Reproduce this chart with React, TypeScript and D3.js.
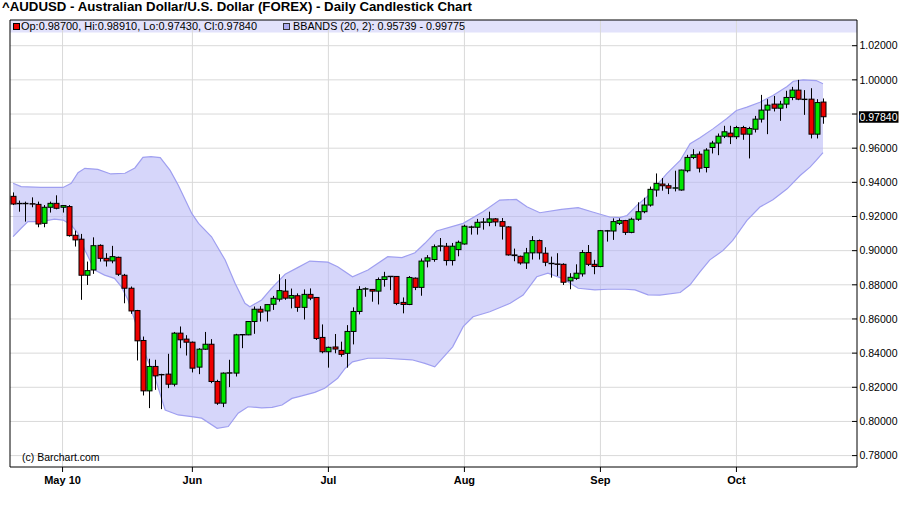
import React from "react";
import * as d3 from "d3";

// daily candles, index 0 = Apr 21 2010 ... 131 = Oct 21 2010
const opens = [
  0.9318, 0.9277, 0.9277, 0.9275, 0.9271, 0.916, 0.9254, 0.9277, 0.9254, 0.9258,
  0.909, 0.9067, 0.8856, 0.8887, 0.9031, 0.8955, 0.894, 0.8961, 0.8856, 0.878,
  0.8649, 0.8474, 0.8179, 0.8322, 0.8275, 0.8277, 0.8218, 0.8517, 0.8482, 0.8464,
  0.8318, 0.8423, 0.8452, 0.8234, 0.8107, 0.8283, 0.8283, 0.8507, 0.8507, 0.8585,
  0.8657, 0.8647, 0.8686, 0.8716, 0.8763, 0.8722, 0.8736, 0.8668, 0.8744, 0.8726,
  0.8492, 0.8408, 0.8436, 0.8416, 0.8399, 0.8527, 0.8644, 0.8775, 0.8773, 0.8763,
  0.8831, 0.8849, 0.8849, 0.8697, 0.8685, 0.8839, 0.8785, 0.8939, 0.8948, 0.9026,
  0.9026, 0.8942, 0.9006, 0.9039, 0.9137, 0.9137, 0.9166, 0.9166, 0.9186, 0.917,
  0.9139, 0.8975, 0.8967, 0.8928, 0.8987, 0.9059, 0.8985, 0.8926, 0.8922, 0.892,
  0.8823, 0.8838, 0.8864, 0.8989, 0.892, 0.8907, 0.9115, 0.9115, 0.916, 0.9176,
  0.9107, 0.9184, 0.9228, 0.9267, 0.9355, 0.939, 0.938, 0.9366, 0.9355, 0.9468,
  0.9546, 0.9565, 0.9487, 0.9604, 0.963, 0.967, 0.9688, 0.9667, 0.9721, 0.9682,
  0.9711, 0.977, 0.9823, 0.9858, 0.9834, 0.9858, 0.9897, 0.994, 0.9887, 0.9887,
  0.9682, 0.987,
];
const highs = [
  0.9341, 0.9293, 0.9287, 0.9312, 0.9287, 0.9267, 0.9287, 0.9324, 0.9267, 0.9267,
  0.9117, 0.9098, 0.8936, 0.9078, 0.9037, 0.8985, 0.9028, 0.8965, 0.8864, 0.879,
  0.8653, 0.8497, 0.8367, 0.8361, 0.8279, 0.8396, 0.8524, 0.8556, 0.8505, 0.8468,
  0.8429, 0.8524, 0.8482, 0.8244, 0.8287, 0.8361, 0.8513, 0.8509, 0.8587, 0.8673,
  0.8675, 0.8684, 0.8735, 0.8862, 0.8833, 0.8778, 0.875, 0.8773, 0.8779, 0.8728,
  0.8568, 0.8438, 0.8512, 0.8467, 0.8564, 0.8668, 0.8792, 0.8785, 0.8775, 0.8843,
  0.8876, 0.8851, 0.8851, 0.8726, 0.8851, 0.8843, 0.8954, 0.8974, 0.9036, 0.9074,
  0.9045, 0.9045, 0.9059, 0.9152, 0.9146, 0.9186, 0.9191, 0.9228, 0.9191, 0.9191,
  0.9143, 0.9012, 0.8971, 0.9016, 0.9085, 0.9065, 0.902, 0.8965, 0.8985, 0.8926,
  0.8868, 0.892, 0.9004, 0.9033, 0.8946, 0.9121, 0.9121, 0.9189, 0.9189, 0.918,
  0.9193, 0.9283, 0.931, 0.9375, 0.9452, 0.9425, 0.9394, 0.9468, 0.9474, 0.9561,
  0.9594, 0.9581, 0.96, 0.9643, 0.9686, 0.9731, 0.9731, 0.9731, 0.9731, 0.9725,
  0.9789, 0.9912, 0.9887, 0.9906, 0.9877, 0.9936, 0.9959, 1.0, 0.994, 0.9951,
  0.9887, 0.9891,
];
const lows = [
  0.9267, 0.9228, 0.917, 0.9254, 0.9137, 0.9137, 0.9223, 0.9242, 0.9223, 0.9082,
  0.9024, 0.8712, 0.8799, 0.8864, 0.8936, 0.8907, 0.8926, 0.8852, 0.8692, 0.863,
  0.8357, 0.8152, 0.8078, 0.8185, 0.8072, 0.8195, 0.8205, 0.8429, 0.8386, 0.8287,
  0.8277, 0.8419, 0.8224, 0.8097, 0.8084, 0.8201, 0.8263, 0.8429, 0.8505, 0.8513,
  0.8585, 0.8585, 0.8653, 0.8702, 0.8712, 0.8662, 0.8642, 0.8597, 0.871, 0.8477,
  0.8399, 0.8315, 0.8399, 0.8379, 0.8315, 0.8451, 0.8627, 0.873, 0.8701, 0.8685,
  0.8789, 0.8769, 0.8681, 0.8633, 0.8681, 0.8769, 0.8736, 0.8902, 0.8935, 0.8996,
  0.8913, 0.8913, 0.8967, 0.9035, 0.9094, 0.9094, 0.9123, 0.9143, 0.9143, 0.9065,
  0.8971, 0.8938, 0.8918, 0.8893, 0.8948, 0.8948, 0.8909, 0.8842, 0.8852, 0.8799,
  0.8774, 0.8829, 0.8848, 0.891, 0.8862, 0.8903, 0.9053, 0.9063, 0.915, 0.9092,
  0.9102, 0.9174, 0.9219, 0.9258, 0.9316, 0.9351, 0.9331, 0.9347, 0.9351, 0.9458,
  0.9536, 0.9458, 0.9458, 0.9569, 0.9559, 0.9659, 0.9624, 0.9653, 0.9649, 0.954,
  0.9692, 0.975, 0.9682, 0.9815, 0.976, 0.9834, 0.9881, 0.9881, 0.9795, 0.9657,
  0.9657, 0.9743,
];
const closes = [
  0.9273, 0.9276, 0.9275, 0.9273, 0.9156, 0.9254, 0.9277, 0.9248, 0.9264, 0.9088,
  0.9063, 0.8856, 0.8883, 0.9029, 0.8955, 0.894, 0.8965, 0.8862, 0.878, 0.8647,
  0.8472, 0.8179, 0.8322, 0.8267, 0.8273, 0.8218, 0.8517, 0.8478, 0.8464, 0.8312,
  0.8423, 0.8452, 0.8234, 0.8107, 0.8283, 0.8285, 0.8507, 0.8509, 0.8585, 0.8657,
  0.864, 0.8684, 0.8721, 0.8766, 0.8722, 0.8737, 0.8668, 0.8744, 0.8722, 0.8486,
  0.8408, 0.8434, 0.8424, 0.8393, 0.8527, 0.8644, 0.8773, 0.8777, 0.8763, 0.8831,
  0.8847, 0.885, 0.8691, 0.8685, 0.8843, 0.8785, 0.8939, 0.8958, 0.9023, 0.9028,
  0.8942, 0.9026, 0.9049, 0.9143, 0.9139, 0.9166, 0.9168, 0.9186, 0.9168, 0.9143,
  0.8975, 0.8971, 0.8928, 0.8987, 0.9059, 0.8987, 0.8932, 0.8924, 0.892, 0.8815,
  0.8844, 0.8868, 0.8989, 0.892, 0.8907, 0.9117, 0.9117, 0.917, 0.9176, 0.9107,
  0.9184, 0.9228, 0.9267, 0.9359, 0.9394, 0.938, 0.9366, 0.9368, 0.9472, 0.9546,
  0.9561, 0.9483, 0.9589, 0.963, 0.967, 0.9696, 0.9667, 0.9721, 0.9682, 0.9715,
  0.977, 0.9823, 0.9852, 0.9834, 0.9858, 0.9897, 0.994, 0.9887, 0.9885, 0.9682,
  0.9867, 0.9784,
];

// Bollinger band readings: [candle index, value]
const bbUpper: [number, number][] = [
  [0, 0.9395], [1.3, 0.9375], [4.5, 0.937], [8.1, 0.937], [9.4, 0.9394], [10.5, 0.9456],
  [11.6, 0.9482], [13.7, 0.9476], [15.8, 0.9449], [18.1, 0.9453], [19.7, 0.9484],
  [21, 0.9546], [22.3, 0.955], [23.8, 0.9545], [25.4, 0.947], [26.7, 0.9384],
  [28.9, 0.9218], [30, 0.916], [32.1, 0.9081], [34.3, 0.8945], [35.9, 0.8809],
  [37.5, 0.8692], [38.3, 0.8672], [40.2, 0.8711], [41.8, 0.8779], [44, 0.8862],
  [46.1, 0.8902], [48, 0.8939], [50.9, 0.8933], [52.5, 0.8906], [54.9, 0.8847],
  [57.4, 0.8887], [60.6, 0.8965], [62.9, 0.8959], [65, 0.8988], [66.6, 0.9043],
  [68.5, 0.9115], [72.8, 0.916], [76, 0.9228], [78.7, 0.9296], [81.4, 0.93],
  [83.1, 0.9257], [85.2, 0.9222], [88.7, 0.9242], [91.4, 0.9252], [93.6, 0.9228],
  [96.5, 0.9197], [98.1, 0.9193], [99.3, 0.9206], [100.9, 0.9265], [102.5, 0.9314],
  [104.1, 0.9382], [105.7, 0.945], [107.9, 0.9528], [109.5, 0.9626], [111.1, 0.9661],
  [113.2, 0.9713], [115.4, 0.9772], [117, 0.9821], [118.7, 0.984], [120.8, 0.9869],
  [122.9, 0.9908], [125.2, 0.9961], [126.2, 0.9992], [127.8, 1.0], [129.9, 0.9996],
  [131, 0.9977],
];
const bbLower: [number, number][] = [
  [0, 0.9082], [1.3, 0.9131], [2.4, 0.917], [4.5, 0.917], [6.7, 0.9185], [8.1, 0.9179],
  [9.4, 0.915], [10.5, 0.9101], [11.6, 0.9004], [13.2, 0.8887], [14.8, 0.8857],
  [16.4, 0.8838], [17.5, 0.8789], [18.6, 0.8711], [20.2, 0.8535], [21.3, 0.84],
  [22.9, 0.8262], [24.6, 0.8067], [26.7, 0.8038], [28.9, 0.8028], [30.5, 0.8019],
  [33, 0.796], [34.8, 0.797], [36.4, 0.8048], [38, 0.8086], [40.2, 0.808], [41.9, 0.8082],
  [43.5, 0.8096], [45.1, 0.8135], [46.4, 0.8147], [48.8, 0.817], [50.4, 0.8194],
  [52.5, 0.8253], [53.7, 0.831], [54.9, 0.8349], [57.4, 0.837], [60.1, 0.837],
  [64.5, 0.8361], [66.6, 0.834], [68.2, 0.832], [71.1, 0.8437], [72.8, 0.8555],
  [74.4, 0.8613], [77.1, 0.8642], [80.4, 0.8692], [82.5, 0.874], [84.7, 0.8847],
  [86.5, 0.8868], [88.8, 0.8838], [91.4, 0.878], [94.1, 0.877], [96.2, 0.8774],
  [99, 0.8774], [100.6, 0.877], [102.7, 0.8741], [104.6, 0.874], [107.9, 0.8755],
  [109.5, 0.88], [111.1, 0.8876], [112.7, 0.8946], [114.8, 0.9], [116.4, 0.906],
  [118.7, 0.9177], [120.8, 0.9255], [122.9, 0.9298], [125.2, 0.9362], [127.3, 0.944],
  [128.9, 0.9489], [129.9, 0.9528], [131, 0.9574],
];

const monthTickIdx = [8, 29, 51, 73, 95, 117];
const monthTickLabels = ["May 10", "Jun", "Jul", "Aug", "Sep", "Oct"];
const priceTicks = [0.78, 0.8, 0.82, 0.84, 0.86, 0.88, 0.9, 0.92, 0.94, 0.96, 0.98, 1.0, 1.02];
const lastPrice = 0.9784;

const W = 900;
const H = 511;
const left = 10;
const right = 857;
const top = 20;
const bottom = 467;

const RED = "#ee0000";
const GREEN = "#00e600";
const GRID = "#d9d9d9";
const AXIS_FONT = "'Liberation Sans', Arial, sans-serif";
const NARROW_FONT = "'Liberation Sans Narrow', 'Arial Narrow', 'Liberation Sans', sans-serif";

const App: React.FC = () => {
  const x = d3.scaleLinear().domain([-0.5, 136.5]).range([left, right]);
  const y = d3.scaleLinear().domain([0.78, 1.02]).range([455.6, 45.7]);
  const half = 2.5;

  const line = d3
    .line<[number, number]>()
    .x((d) => x(d[0]))
    .y((d) => y(d[1]));
  const upperPath = line(bbUpper) || "";
  const lowerPath = line(bbLower) || "";
  const lowerRevPath = line([...bbLower].reverse()) || "";
  const bandPath = upperPath + "L" + lowerRevPath.slice(1) + "Z";

  // the last-price box hides the tick label it sits on
  const hidden = (p: number) => Math.abs(y(p) - y(lastPrice)) < 9;

  return (
    <svg
      width={W}
      height={H}
      style={{ position: "absolute", left: 0, top: 0, background: "#fff" }}
    >
      <text
        x={2}
        y={11}
        fontFamily={AXIS_FONT}
        fontWeight="bold"
        fontSize={13}
        textLength={470}
        lengthAdjust="spacingAndGlyphs"
        fill="#000"
      >
        ^AUDUSD - Australian Dollar/U.S. Dollar (FOREX) - Daily Candlestick Chart
      </text>

      {/* legend strip, grid drawn over it */}
      <rect x={left} y={top} width={right - left} height={12.5} fill="#e2e2fb" />

      {priceTicks.map((p) => (
        <line key={"h" + p} x1={left} x2={right} y1={y(p)} y2={y(p)} stroke={GRID} />
      ))}
      {monthTickIdx.map((i) => (
        <line key={"v" + i} x1={x(i)} x2={x(i)} y1={top} y2={bottom} stroke={GRID} />
      ))}

      <rect x={13.5} y={23.5} width={6} height={6} fill={RED} stroke="#000" />
      <text
        x={21}
        y={30}
        fontFamily={AXIS_FONT}
        fontSize={10.5}
        textLength={236}
        lengthAdjust="spacingAndGlyphs"
        fill="#000"
      >
        Op:0.98700, Hi:0.98910, Lo:0.97430, Cl:0.97840
      </text>
      <rect x={283.5} y={23.5} width={6} height={6} fill="#aaaaee" stroke="#333" />
      <text
        x={293}
        y={30}
        fontFamily={AXIS_FONT}
        fontSize={10.5}
        textLength={172}
        lengthAdjust="spacingAndGlyphs"
        fill="#000"
      >
        BBANDS (20, 2): 0.95739 - 0.99775
      </text>

      {/* bollinger band */}
      <path d={bandPath} fill="#b4b4f5" fillOpacity={0.55} stroke="none" />
      <path d={upperPath} fill="none" stroke="#9f9ff0" strokeWidth={1.2} />
      <path d={lowerPath} fill="none" stroke="#9f9ff0" strokeWidth={1.2} />

      {/* candles */}
      {opens.map((o, i) => {
        const c = closes[i];
        const cx = Math.round(x(i)) + 0.5;
        const yt = y(Math.max(o, c));
        const yb = y(Math.min(o, c));
        return (
          <g key={i}>
            <line x1={cx} x2={cx} y1={y(highs[i])} y2={y(lows[i])} stroke="#000" />
            <rect
              x={cx - half}
              y={yt}
              width={half * 2}
              height={Math.max(yb - yt, 0.4)}
              fill={c >= o ? GREEN : RED}
              stroke="#000"
              strokeWidth={1}
            />
          </g>
        );
      })}

      {/* frame */}
      <line x1={left} x2={left} y1={top} y2={bottom} stroke="#000" />
      <line x1={right} x2={right} y1={top} y2={bottom} stroke="#000" />
      <line x1={left} x2={right} y1={top} y2={top} stroke="#000" />
      <line x1={left} x2={right} y1={bottom} y2={bottom} stroke="#000" />

      {/* right price axis */}
      {priceTicks.map((p) => (
        <g key={"t" + p}>
          <line x1={right - 5} x2={right} y1={y(p)} y2={y(p)} stroke="#000" />
          {!hidden(p) && (
            <text
              x={859.5}
              y={y(p)}
              dy="0.36em"
              fontFamily={AXIS_FONT}
              fontSize={10.5}
              textLength={38}
              lengthAdjust="spacingAndGlyphs"
              fill="#000"
            >
              {p.toFixed(5)}
            </text>
          )}
        </g>
      ))}
      <rect x={859} y={y(lastPrice) - 5.5} width={39.5} height={11.5} fill="#000" />
      <text
        x={859.5}
        y={y(lastPrice)}
        dy="0.36em"
        fontFamily={AXIS_FONT}
        fontSize={10.5}
        textLength={38}
        lengthAdjust="spacingAndGlyphs"
        fill="#fff"
      >
        {lastPrice.toFixed(5)}
      </text>

      {/* month axis */}
      {monthTickIdx.map((i, k) => (
        <g key={"m" + i}>
          <line x1={x(i)} x2={x(i)} y1={bottom} y2={bottom + 5} stroke="#000" />
          <text
            x={x(i)}
            y={484}
            textAnchor="middle"
            fontFamily={NARROW_FONT}
            fontWeight="bold"
            fontSize={11}
            fill="#000"
          >
            {monthTickLabels[k]}
          </text>
        </g>
      ))}

      <text x={22} y={461} fontFamily={NARROW_FONT} fontSize={10.5} fill="#000">
        (c) Barchart.com
      </text>
    </svg>
  );
};

export default App;
